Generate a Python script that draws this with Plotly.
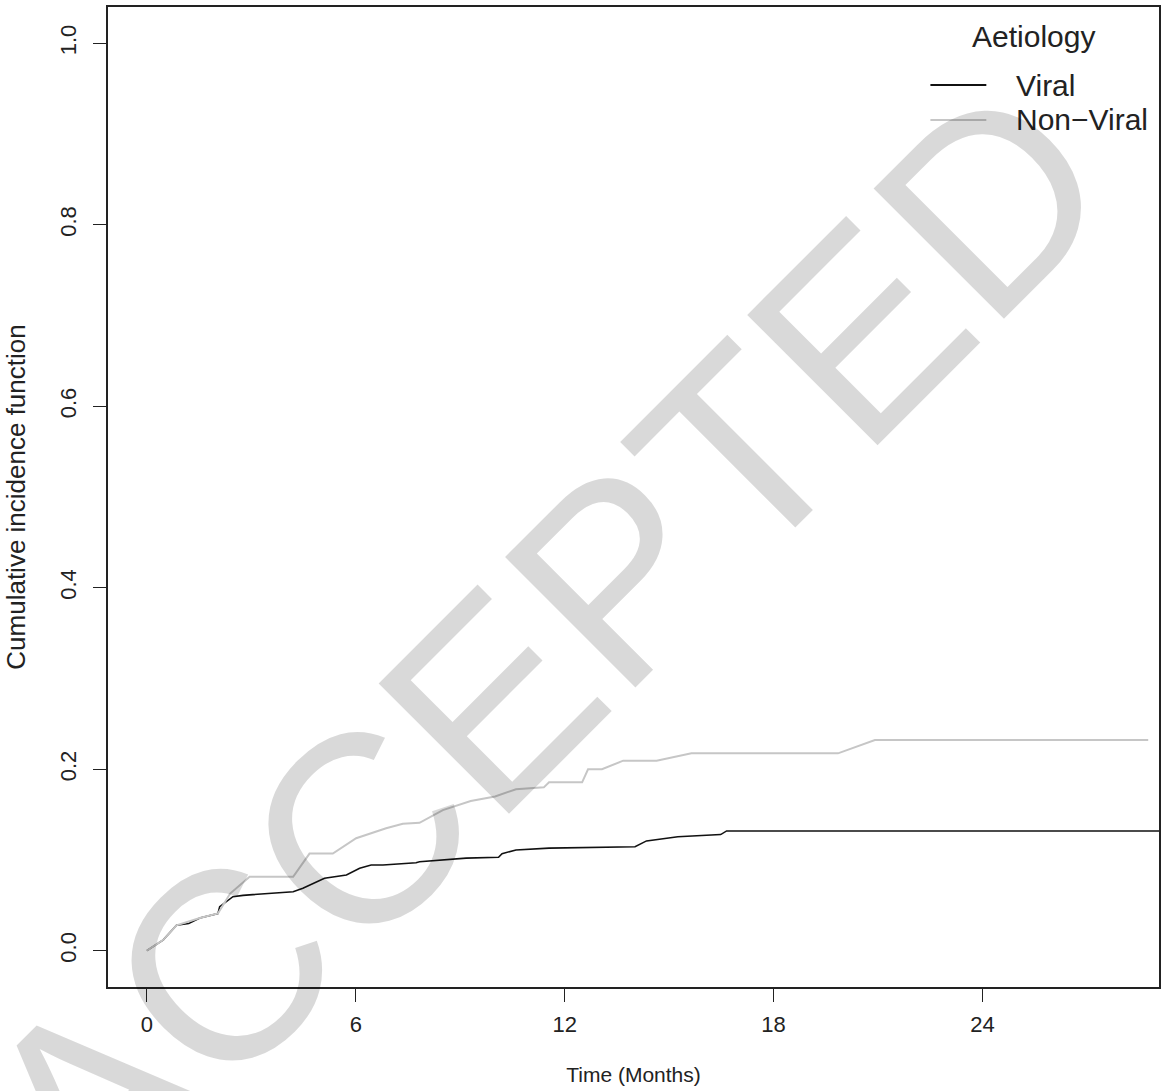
import plotly.graph_objects as go

# ---- data ----
viral_t = [0, 0.47, 0.85, 1.2, 1.52, 2.04, 2.09, 2.39, 2.47, 2.76, 3.43, 4.2, 4.48, 4.77,
           5.1, 5.73, 6.11, 6.44, 6.78, 7.73, 7.83, 9.17, 10.1, 10.2, 10.6, 11.55, 14.02,
           14.35, 15.25, 16.48, 16.65, 29.2]
viral_cif = [0, 0.012, 0.028, 0.030, 0.036, 0.041, 0.0485, 0.058, 0.0595, 0.061, 0.063,
             0.065, 0.0688, 0.0743, 0.0798, 0.0834, 0.0908, 0.0944, 0.0944, 0.097, 0.098,
             0.102, 0.103, 0.107, 0.111, 0.113, 0.1146, 0.121, 0.1256, 0.128, 0.132, 0.132]

nonviral_t = [0, 0.47, 0.85, 1.52, 2.04, 2.39, 2.95, 4.2, 4.67, 5.34, 6.01, 6.87, 7.35,
              7.83, 8.5, 9.3, 10.0, 10.6, 11.4, 11.55, 12.5, 12.67, 13.07, 13.68, 14.64,
              15.64, 19.85, 20.91, 28.76]
nonviral_cif = [0, 0.012, 0.028, 0.036, 0.041, 0.063, 0.0815, 0.0815, 0.107, 0.107, 0.124,
                0.135, 0.140, 0.141, 0.155, 0.165, 0.17, 0.178, 0.18, 0.1856, 0.1856, 0.200,
                0.200, 0.2094, 0.2094, 0.2175, 0.2175, 0.2322, 0.2322]

series_names = ["Viral", "Non\u2212Viral"]
series_colors = ["#111111", "#c6c6c6"]
legend_title = "Aetiology"

x_ticks = [0, 6, 12, 18, 24]
y_ticks = [0.0, 0.2, 0.4, 0.6, 0.8, 1.0]
y_tick_labels = ["0.0", "0.2", "0.4", "0.6", "0.8", "1.0"]

FONT = "Arial, Liberation Sans, sans-serif"
TXT = "#222222"

fig = go.Figure()
fig.add_trace(go.Scatter(x=viral_t, y=viral_cif, mode="lines", name=series_names[0],
                         line=dict(color=series_colors[0], width=1.6)))
fig.add_trace(go.Scatter(x=nonviral_t, y=nonviral_cif, mode="lines", name=series_names[1],
                         line=dict(color=series_colors[1], width=2)))

# R-style legend without a box (keys drawn in paper space)
leg_key_x0, leg_key_x1, leg_text_x = 0.7825, 0.8357, 0.8623
leg_rows_y = [0.9204, 0.8847]
annotations = [dict(text=legend_title, xref="paper", yref="paper", x=0.8803, y=0.9694,
                    xanchor="center", yanchor="middle", showarrow=False,
                    font=dict(size=30, color=TXT, family=FONT))]
shapes = []
for name, col, yy in zip(series_names, series_colors, leg_rows_y):
    annotations.append(dict(text=name, xref="paper", yref="paper", x=leg_text_x, y=yy,
                            xanchor="left", yanchor="middle", showarrow=False,
                            font=dict(size=30, color=TXT, family=FONT)))
    shapes.append(dict(type="line", xref="paper", yref="paper", x0=leg_key_x0, x1=leg_key_x1,
                       y0=yy, y1=yy, line=dict(color=col, width=1.8)))

# watermark
annotations.append(dict(
    text="ACCEPTED", xref="paper", yref="paper", x=0.4142, y=0.3459,
    xanchor="center", yanchor="middle", showarrow=False, textangle=-45,
    font=dict(family=FONT, size=268, color="rgba(0,0,0,0.15)"),
))

fig.update_layout(
    width=1163, height=1091,
    margin=dict(l=108, r=2, t=7, b=104),
    paper_bgcolor="white", plot_bgcolor="white",
    font=dict(family=FONT, color=TXT),
    showlegend=False,
    annotations=annotations,
    shapes=shapes,
)

fig.update_xaxes(
    range=[-1.118, 29.07], tickmode="array", tickvals=x_ticks,
    ticks="outside", ticklen=13, tickwidth=1.3, tickcolor=TXT,
    showline=True, linecolor=TXT, linewidth=1.5, mirror=True,
    showgrid=False, zeroline=False, ticklabelstandoff=4,
    tickfont=dict(size=22, color=TXT),
    title=dict(text="Time (Months)", font=dict(size=21, color=TXT), standoff=31),
)
fig.update_yaxes(
    range=[-0.04, 1.04], tickmode="array", tickvals=y_ticks, ticktext=y_tick_labels,
    ticks="outside", ticklen=13, tickwidth=1.3, tickcolor=TXT, tickangle=-90,
    showline=True, linecolor=TXT, linewidth=1.5, mirror=True,
    showgrid=False, zeroline=False, ticklabelstandoff=8,
    tickfont=dict(size=22, color=TXT),
    title=dict(text="Cumulative incidence function", font=dict(size=26, color=TXT),
               standoff=23),
)

fig.write_html("out.html", config={"displayModeBar": False},
               post_script="document.body.style.margin='0px';")
